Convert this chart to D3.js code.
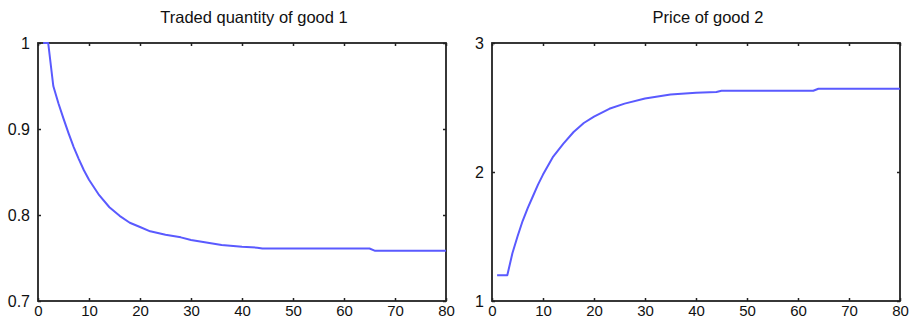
<!DOCTYPE html>
<html>
<head>
<meta charset="utf-8">
<script src="https://cdn.jsdelivr.net/npm/d3@7"></script>
<style>
body { margin: 0; background: #fff; }
svg text { font-family: "Liberation Sans", Arial, sans-serif; fill: #111; }
</style>
</head>
<body>
<svg id="chart" width="912" height="320"></svg>
<script>
// values
var qtyX   = [1, 2, 3, 4, 5, 6, 7, 8, 9, 10, 12, 14, 16, 18, 20, 22, 25, 28, 30, 33, 36, 40, 43, 44, 65, 66, 80];
var qtyY   = [1, 1, 0.95, 0.93, 0.912, 0.895, 0.879, 0.865, 0.852, 0.841, 0.823, 0.809, 0.799, 0.791, 0.786, 0.781, 0.777, 0.774, 0.771, 0.768, 0.765, 0.763, 0.762, 0.761, 0.761, 0.7585, 0.7585];
var priceX = [1, 2, 3, 4, 5, 6, 7, 8, 9, 10, 12, 14, 16, 18, 20, 23, 26, 30, 35, 40, 44, 45, 63, 64, 80];
var priceY = [1.2, 1.2, 1.2, 1.37, 1.5, 1.62, 1.72, 1.81, 1.9, 1.98, 2.12, 2.22, 2.31, 2.38, 2.43, 2.49, 2.53, 2.57, 2.6, 2.615, 2.62, 2.63, 2.63, 2.645, 2.645];

var xTicks     = [0, 10, 20, 30, 40, 50, 60, 70, 80];
var qtyTicks   = [0.7, 0.8, 0.9, 1];
var priceTicks = [1, 2, 3];
var titles     = ["Traded quantity of good 1", "Price of good 2"];

var svg = d3.select("#chart");

function panel(left, title, xs, ys, yDomain, yTicks) {
  var top = 43, bottom = 301, right = left + 408;

  var x = d3.scaleLinear().domain([0, 80]).range([left, right]);
  var y = d3.scaleLinear().domain(yDomain).range([bottom, top]);

  var g = svg.append("g");

  g.append("text")
    .attr("x", (left + right) / 2 + 12)
    .attr("y", 23)
    .attr("text-anchor", "middle")
    .style("font-size", "16.5px")
    .text(title);

  // bottom axis with labels, ticks pointing inward
  g.append("g")
    .attr("transform", "translate(0," + bottom + ")")
    .call(d3.axisBottom(x).tickValues(xTicks).tickSizeInner(-3).tickSizeOuter(0).tickPadding(4).tickFormat(function(d) { return d; }))
    .call(function(a) { a.selectAll("text").style("font-size", "15px").attr("dy", "0.71em"); });

  // left axis
  g.append("g")
    .attr("transform", "translate(" + left + ",0)")
    .call(d3.axisLeft(y).tickValues(yTicks).tickSizeInner(-3).tickSizeOuter(0).tickPadding(8).tickFormat(function(d) { return d; }))
    .call(function(a) { a.selectAll("text").style("font-size", "16px"); });

  // top and right: ticks only
  g.append("g")
    .attr("transform", "translate(0," + top + ")")
    .call(d3.axisTop(x).tickValues(xTicks).tickSizeInner(-3).tickSizeOuter(0).tickFormat(""));
  g.append("g")
    .attr("transform", "translate(" + right + ",0)")
    .call(d3.axisRight(y).tickValues(yTicks).tickSizeInner(-3).tickSizeOuter(0).tickFormat(""));

  g.selectAll(".domain").remove();
  g.selectAll(".tick line").attr("stroke", "#222").attr("stroke-width", 1.5);

  g.append("rect")
    .attr("x", left).attr("y", top)
    .attr("width", right - left).attr("height", bottom - top)
    .attr("fill", "none")
    .attr("stroke", "#222")
    .attr("stroke-width", 1.8);

  var line = d3.line()
    .x(function(d) { return x(d[0]); })
    .y(function(d) { return y(d[1]); });

  g.append("path")
    .datum(d3.zip(xs, ys))
    .attr("fill", "none")
    .attr("stroke", "#5a5aff")
    .attr("stroke-width", 2)
    .attr("stroke-linejoin", "round")
    .attr("d", line);
}

panel(38, titles[0], qtyX, qtyY, [0.7, 1], qtyTicks);
panel(492, titles[1], priceX, priceY, [1, 3], priceTicks);
</script>
</body>
</html>
